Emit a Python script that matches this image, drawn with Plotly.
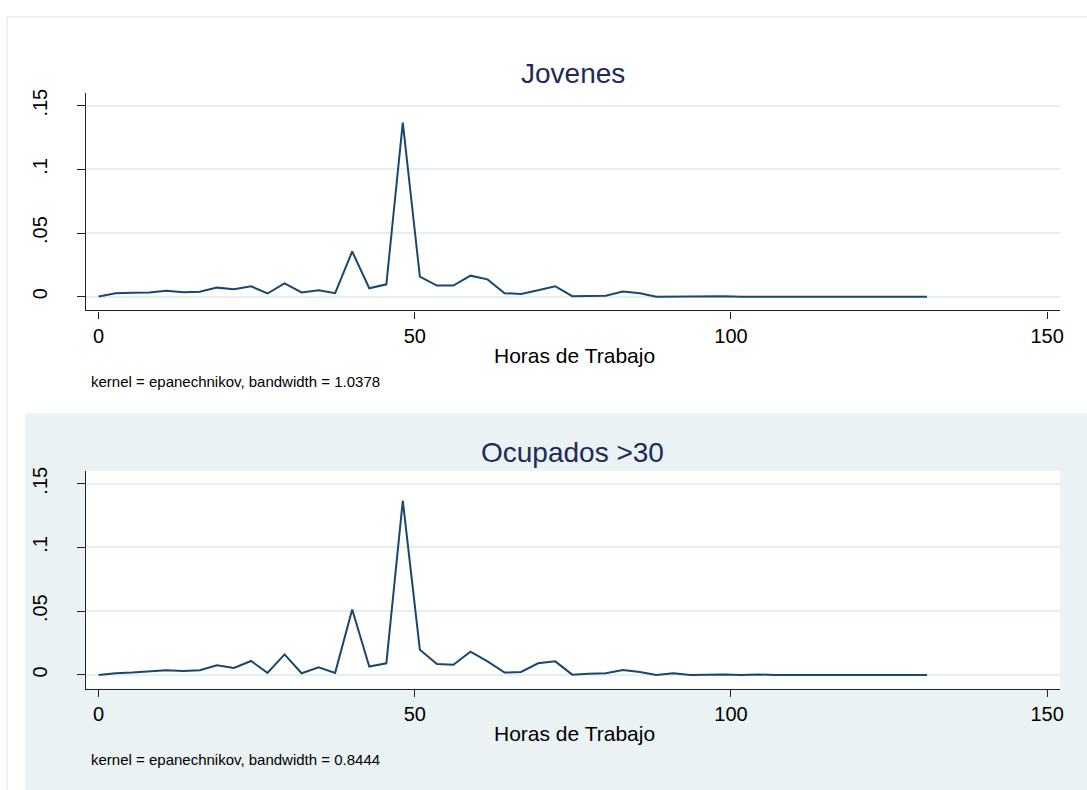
import plotly.graph_objects as go

# Kernel density estimates of weekly working hours (evaluation grid shared by both groups)
hours = [0.0, 2.7, 5.3, 8.0, 10.7, 13.4, 16.0, 18.7, 21.4, 24.1,
         26.7, 29.4, 32.1, 34.8, 37.4, 40.1, 42.8, 45.5, 48.1, 50.8,
         53.5, 56.1, 58.8, 61.5, 64.2, 66.8, 69.5, 72.2, 74.9, 77.5,
         80.2, 82.9, 85.6, 88.2, 90.9, 93.6, 96.3, 98.9, 101.6, 104.3,
         107.0, 109.6, 112.3, 115.0, 117.7, 120.3, 123.0, 125.7, 128.4, 131.0]

density_jovenes = [0.0003, 0.0028, 0.0031, 0.0034, 0.0047, 0.0036, 0.0040, 0.0072, 0.0060, 0.0083,
                   0.0026, 0.0106, 0.0034, 0.0052, 0.0028, 0.0356, 0.0067, 0.0098, 0.1367, 0.0158,
                   0.0088, 0.0088, 0.0166, 0.0137, 0.0028, 0.0023, 0.0052, 0.0083, 0.0005, 0.0008,
                   0.0008, 0.0041, 0.0028, 0.0001, 0.0003, 0.0001, 0.0005, 0.0005, 0.0001, 0.0001,
                   0.0001, 0.0, 0.0, 0.0, 0.0, 0.0, 0.0, 0.0, 0.0, 0.0]

density_ocupados = [0.0, 0.0013, 0.0018, 0.0026, 0.0036, 0.0031, 0.0036, 0.0075, 0.0055, 0.0109,
                    0.0016, 0.0161, 0.0013, 0.0060, 0.0016, 0.0513, 0.0065, 0.0091, 0.1367, 0.0198,
                    0.0086, 0.0080, 0.0182, 0.0106, 0.0018, 0.0023, 0.0091, 0.0106, 0.0002, 0.0008,
                    0.0013, 0.0039, 0.0023, 0.0, 0.0013, 0.0, 0.0003, 0.0003, 0.0, 0.0003,
                    0.0, 0.0, 0.0, 0.0, 0.0, 0.0, 0.0, 0.0, 0.0, 0.0]

panel_titles = ["Jovenes", "Ocupados >30"]
x_title = "Horas de Trabajo"
notes = ["kernel = epanechnikov, bandwidth = 1.0378",
         "kernel = epanechnikov, bandwidth = 0.8444"]
x_ticks = [0, 50, 100, 150]
y_ticks = [0, 0.05, 0.1, 0.15]
y_tick_text = ["0", ".05", ".1", ".15"]

W, H = 1087, 790
FONT = "Liberation Sans, Arial, sans-serif"
LINE = "#1A476F"
TITLE_C = "#1C2B59"
PANEL_BG = "#EAF2F3"
GRID = "#E6EEF0"
AXIS_C = "#222222"


def px_x(p):
    return p / W


def px_y(p):
    return 1 - p / H


fig = go.Figure()
fig.add_trace(go.Scatter(x=hours, y=density_jovenes, mode="lines",
                         line=dict(color=LINE, width=2), xaxis="x", yaxis="y",
                         showlegend=False, hoverinfo="skip"))
fig.add_trace(go.Scatter(x=hours, y=density_ocupados, mode="lines",
                         line=dict(color=LINE, width=2), xaxis="x2", yaxis="y2",
                         showlegend=False, hoverinfo="skip"))

x_dom = [px_x(86), px_x(1064)]
x_range = [-2.05, 152.05]
y_range = [-0.0107, 0.1603]

xaxis_common = dict(
    range=x_range, domain=x_dom, tickvals=x_ticks, ticks="outside", ticklen=7,
    tickwidth=1.2, tickcolor=AXIS_C, showline=True, linecolor=AXIS_C, linewidth=1.3,
    showgrid=False, zeroline=False, fixedrange=True,
    tickfont=dict(family=FONT, size=20, color="#000000"),
)
yaxis_common = dict(
    range=y_range, tickvals=y_ticks, ticktext=y_tick_text, tickangle=-90,
    ticks="outside", ticklen=8, tickwidth=1.2, tickcolor=AXIS_C,
    showline=True, linecolor=AXIS_C, linewidth=1.3,
    showgrid=True, gridcolor=GRID, gridwidth=1.5, zeroline=False, fixedrange=True,
    tickfont=dict(family=FONT, size=20, color="#000000"), ticklabelstandoff=22,
)

fig.update_layout(
    width=W, height=H,
    margin=dict(l=0, r=0, t=0, b=0),
    paper_bgcolor="#FFFFFF",
    plot_bgcolor="rgba(0,0,0,0)",
    xaxis=dict(anchor="y", **xaxis_common),
    yaxis=dict(anchor="x", domain=[px_y(308), px_y(89)], **yaxis_common),
    xaxis2=dict(anchor="y2", **xaxis_common),
    yaxis2=dict(anchor="x2", domain=[px_y(688), px_y(469)], **yaxis_common),
    font=dict(family=FONT),
)

# Graph-region frames: white outer frame, tinted lower panel, white plot area
fig.add_shape(type="rect", xref="paper", yref="paper", layer="below",
              x0=px_x(7), x1=px_x(1100), y0=px_y(800), y1=px_y(13),
              fillcolor="#FFFFFF", line=dict(color="#E2E2E2", width=1))
fig.add_shape(type="rect", xref="paper", yref="paper", layer="below",
              x0=px_x(25), x1=px_x(1100), y0=px_y(800), y1=px_y(411.5),
              fillcolor=PANEL_BG, line=dict(width=0))
fig.add_shape(type="rect", xref="x2 domain", yref="y2 domain", layer="below",
              x0=0, x1=1, y0=0, y1=1, fillcolor="#FFFFFF", line=dict(width=0))

annotations = [
    dict(text=panel_titles[0], x=px_x(575), y=px_y(70), font=dict(size=28, color=TITLE_C)),
    dict(text=panel_titles[1], x=px_x(575), y=px_y(451), font=dict(size=28, color=TITLE_C)),
    dict(text=x_title, x=px_x(577), y=px_y(353), font=dict(size=21, color="#000000")),
    dict(text=x_title, x=px_x(577), y=px_y(733), font=dict(size=21, color="#000000")),
]
for a in annotations:
    a.update(xref="paper", yref="paper", xanchor="center", yanchor="middle", showarrow=False)
    a["font"]["family"] = FONT

for note, yc in zip(notes, [379, 759]):
    annotations.append(dict(text=note, x=px_x(89), y=px_y(yc), xref="paper", yref="paper",
                            xanchor="left", yanchor="middle", showarrow=False,
                            font=dict(family=FONT, size=15, color="#000000")))

fig.update_layout(annotations=annotations)

fig.write_html("out.html", config={"displayModeBar": False})
